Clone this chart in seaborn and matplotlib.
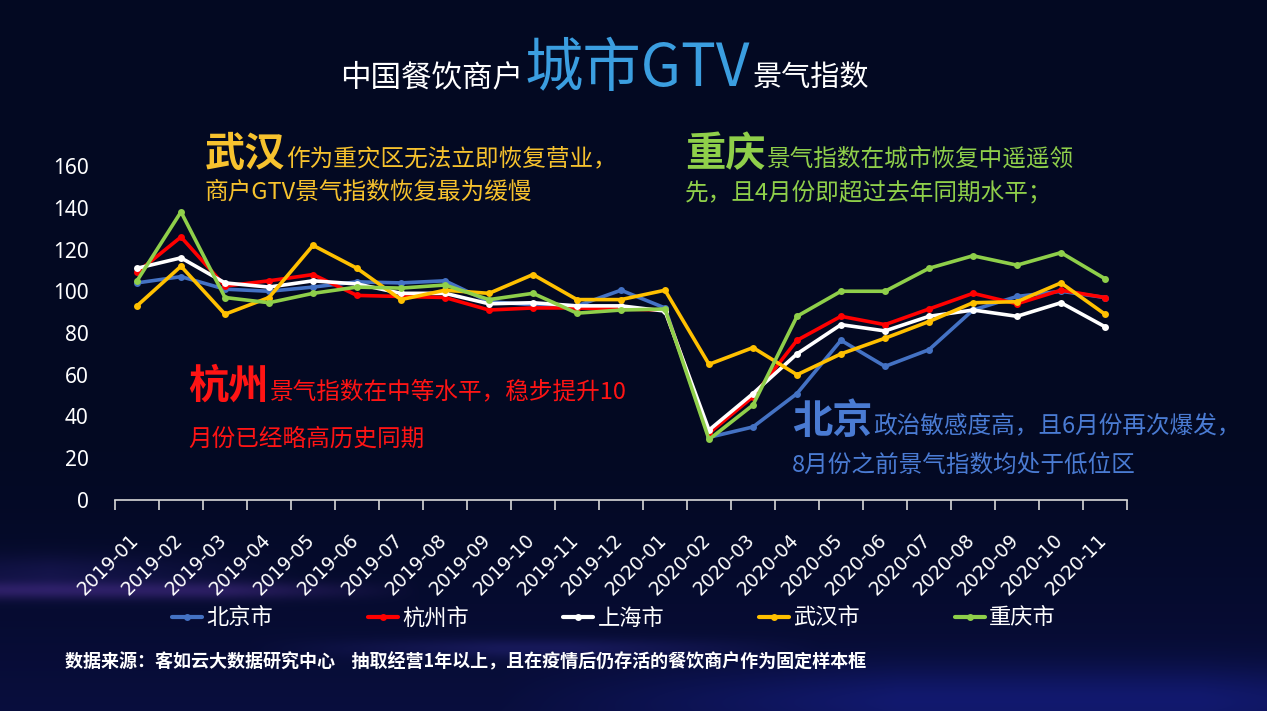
import matplotlib
matplotlib.use("Agg")
import numpy as np
import pandas as pd
import matplotlib.pyplot as plt
import matplotlib.transforms as mtransforms
import seaborn as sns

# ---------------- data ----------------
months = ["2019-01", "2019-02", "2019-03", "2019-04", "2019-05", "2019-06",
          "2019-07", "2019-08", "2019-09", "2019-10", "2019-11", "2019-12",
          "2020-01", "2020-02", "2020-03", "2020-04", "2020-05", "2020-06",
          "2020-07", "2020-08", "2020-09", "2020-10", "2020-11"]
cities = ["北京市", "杭州市", "上海市", "武汉市", "重庆市"]
beijing = [104, 107, 101, 100, 102, 104.5, 104, 105, 95, 93.5, 93, 100.5,
           92, 30, 35, 51, 76.5, 64, 72, 91, 97.5, 100, 97]
hangzhou = [109, 126, 102.5, 105, 108, 98, 97.5, 97, 91, 92, 92, 91.5,
            91, 32, 49.5, 76.5, 88, 84, 91.5, 99, 94, 100.5, 97]
shanghai = [111, 116, 104, 102, 105, 103.5, 99, 99, 94, 94.5, 93, 93,
            90.5, 33.5, 51, 70, 84, 81, 88, 91, 88, 94.5, 83]
wuhan = [93, 112, 89, 97, 122, 111, 96, 100.5, 99, 108, 96, 96,
         100.5, 65, 73, 60, 70, 77.5, 85.5, 94.5, 95, 104, 89]
chongqing = [105, 138, 97, 94.5, 99, 102, 101.5, 103, 96, 99, 89.5, 91,
             91.5, 29, 45.5, 88, 100, 100, 111, 117, 112.5, 118.5, 106]
yticks = [0, 20, 40, 60, 80, 100, 120, 140, 160]

series = [beijing, hangzhou, shanghai, wuhan, chongqing]
colors = ["#4472c4", "#ff0000", "#ffffff", "#ffc000", "#8fcf4a"]

rows = []
for city, vals in zip(cities, series):
    for i, v in enumerate(vals):
        rows.append({"idx": i, "value": v, "city": city})
df = pd.DataFrame(rows)

# ---------------- figure ----------------
sns.set_theme(style="dark")
plt.rcParams["font.family"] = ["Noto Sans CJK SC", "DejaVu Sans"]
plt.rcParams["axes.unicode_minus"] = False

W, H = 1267, 711
fig = plt.figure(figsize=(W / 100, H / 100), dpi=100)
fig.patch.set_facecolor("#030923")

# background glow (decoration)
yy, xx = np.mgrid[0:H, 0:W].astype(float)
top = np.array([3, 9, 34]) / 255.0
bot = np.array([9, 14, 62]) / 255.0
ramp = np.clip((yy - 420) / (H - 420), 0, 1) ** 1.5
img = top[None, None, :] * (1 - ramp[..., None]) + bot[None, None, :] * ramp[..., None]
def glow(cy, sy, x0, x1, sx, col, amp):
    g = np.exp(-((yy - cy) / sy) ** 2)
    fx = np.clip(np.minimum((xx - x0) / sx, (x1 - xx) / sx), 0, 1)
    return g[..., None] * fx[..., None] * (np.array(col) / 255.0)[None, None, :] * amp
img = img + glow(590, 9, -200, 420, 200, (70, 35, 95), 0.5)
img = img + glow(572, 18, -200, 300, 250, (40, 25, 80), 0.35)
img = img + glow(648, 10, 250, 820, 250, (45, 35, 100), 0.35)
img = img + glow(700, 35, 500, 1600, 400, (20, 25, 110), 0.45)
img = np.clip(img, 0, 1)
bg = fig.add_axes([0, 0, 1, 1], zorder=-10)
bg.imshow(img, aspect="auto", extent=[0, 1, 0, 1])
bg.axis("off")

# main axes: x 115..1127, y 166(=160)..500(=0)
ax = fig.add_axes([115 / W, 1 - 500 / H, (1127 - 115) / W, (500 - 166) / H])
ax.set_facecolor("none")

sns.lineplot(data=df, x="idx", y="value", hue="city", hue_order=cities,
             palette=colors, marker="o", markersize=5, markeredgewidth=0,
             linewidth=2.6, errorbar=None, ax=ax)
for ln in ax.lines:
    ln.set_clip_on(False)

ax.set_xlim(-0.5, len(months) - 0.5)
ax.set_ylim(0, 160)
ax.set_yticks(yticks)
ax.set_yticklabels([str(v) for v in yticks], color="white", fontsize=15,
                   family=["Noto Sans", "DejaVu Sans"])
ax.tick_params(axis="y", length=0, pad=19, left=False)
ax.set_xticks(range(len(months)))
ax.set_xticklabels(months, rotation=45, ha="right", va="top", color="white",
                   fontsize=13.5, family=["DejaVu Sans"])
ax.tick_params(axis="x", which="major", length=0, pad=22, bottom=False)
ax.set_xticks(np.arange(-0.5, len(months), 1.0), minor=True)
ax.tick_params(axis="x", which="minor", length=7, width=1.2, color="#d8d8d8",
               direction="out", bottom=True)
offset = mtransforms.ScaledTranslation(6 / 100, 0, fig.dpi_scale_trans)
for lab in ax.get_xticklabels():
    lab.set_transform(lab.get_transform() + offset)
ax.set_xlabel("")
ax.set_ylabel("")
ax.grid(False)
for s in ["top", "right", "left"]:
    ax.spines[s].set_visible(False)
ax.spines["bottom"].set_color("#d8d8d8")
ax.spines["bottom"].set_linewidth(1.2)

# legend
handles, labels = ax.get_legend_handles_labels()
if ax.get_legend() is not None:
    ax.get_legend().remove()
leg = fig.legend(handles, labels, loc="center left",
                 bbox_to_anchor=(172 / W, 1 - 618 / H), ncol=5, frameon=False,
                 fontsize=16, handlelength=1.35, handletextpad=0.2,
                 columnspacing=4.25, borderpad=0, borderaxespad=0)
for t in leg.get_texts():
    t.set_color("white")
for lh in leg.legend_handles:
    lh.set_linewidth(3)

# ---------------- texts ----------------
renderer = fig.canvas.get_renderer()

def chain(x_px, y_px, pieces, gap=1):
    x = x_px
    for text, kw in pieces:
        t = fig.text(x / W, 1 - y_px / H, text, ha="left", va="baseline", **kw)
        bb = t.get_window_extent(renderer=renderer)
        x = bb.x1 + gap

# title
chain(340, 86, [
    ("中国餐饮商户", dict(fontsize=22, color="white")),
    ("城市GTV", dict(fontsize=42, color="#3b9ee0")),
    ("景气指数", dict(fontsize=21, color="white")),
], gap=2)

big = 29
small = 17
yel = "#f7c22e"
grn = "#8fcf4a"
red = "#ff1414"
blu = "#4a7bd3"

chain(205, 166, [("武汉", dict(fontsize=big, color=yel, fontweight="bold")),
                 ("作为重灾区无法立即恢复营业，", dict(fontsize=small, color=yel))])
fig.text(205 / W, 1 - 199 / H, "商户GTV景气指数恢复最为缓慢", fontsize=small,
         color=yel, ha="left", va="baseline")

chain(685, 166, [("重庆", dict(fontsize=big, color=grn, fontweight="bold")),
                 ("景气指数在城市恢复中遥遥领", dict(fontsize=small, color=grn))])
fig.text(685 / W, 1 - 199 / H, "先，且4月份即超过去年同期水平；", fontsize=small,
         color=grn, ha="left", va="baseline")

chain(188, 398, [("杭州", dict(fontsize=big, color=red, fontweight="bold")),
                 ("景气指数在中等水平，稳步提升10", dict(fontsize=small, color=red))])
fig.text(188 / W, 1 - 446 / H, "月份已经略高历史同期", fontsize=small,
         color=red, ha="left", va="baseline")

chain(792, 433, [("北京", dict(fontsize=big, color=blu, fontweight="bold")),
                 ("政治敏感度高，且6月份再次爆发，", dict(fontsize=small, color=blu))])
fig.text(792 / W, 1 - 472 / H, "8月份之前景气指数均处于低位区", fontsize=small,
         color=blu, ha="left", va="baseline")

fig.text(65 / W, 1 - 667 / H,
         "数据来源：客如云大数据研究中心    抽取经营1年以上，且在疫情后仍存活的餐饮商户作为固定样本框",
         fontsize=13, color="white", fontweight="bold", style="italic",
         ha="left", va="baseline")

fig.savefig("out.png", dpi=100, facecolor=fig.get_facecolor())
